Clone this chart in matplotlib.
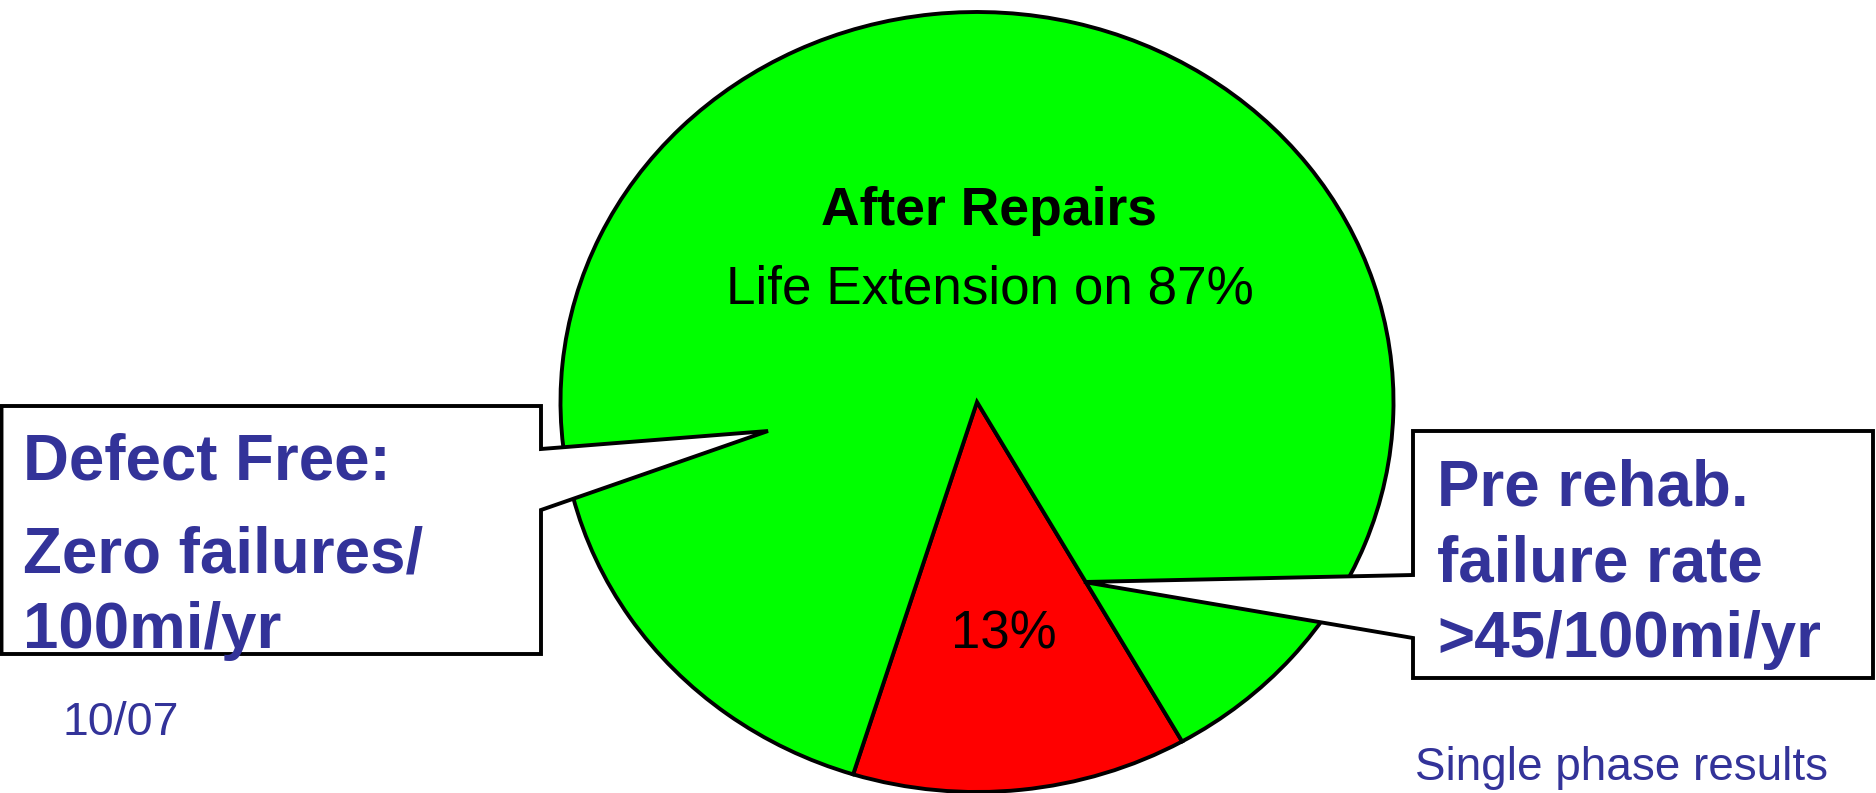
import matplotlib.pyplot as plt
from matplotlib.patches import Polygon

plt.rcParams['font.family'] = ['Liberation Sans', 'DejaVu Sans']

# data
slice_names = ["Pre rehab", "After Repairs"]
shares = [13, 87]
slice_colors = ["#ff0000", "#00ff00"]
left_note = ["Defect Free:", "Zero failures/", "100mi/yr"]
right_note = ["Pre rehab.", "failure rate", ">45/100mi/yr"]
date_text = "10/07"
foot_text = "Single phase results"

W, H = 1876, 793
blue = "#333399"

fig = plt.figure(figsize=(W / 100, H / 100), dpi=100)

# pie axes, stretched so the pie becomes an ellipse
ax = fig.add_axes([0, 0, 1, 1])
cx, cy = 977, 402      # centre in pixels (y from top)
a, b = 416.5, 390.0    # half width / half height in pixels

wedges, texts, autotexts = ax.pie(
    shares,
    colors=slice_colors,
    startangle=-107.3,
    counterclock=True,
    wedgeprops=dict(edgecolor="black", linewidth=2.8),
    autopct=lambda p: f"{p:.0f}%" if p < 50 else "",
    pctdistance=0.6,
    textprops=dict(fontsize=38, color="black"),
)
ax.set_aspect("auto")
ax.set_xlim(-cx / a, (W - cx) / a)
ax.set_ylim(-(H - cy) / b, cy / b)
ax.axis("off")

# overlay axes in pixel coordinates for callouts and notes
ax2 = fig.add_axes([0, 0, 1, 1])
ax2.set_xlim(0, W)
ax2.set_ylim(H, 0)
ax2.axis("off")

# green slice text
ax2.text(989, 225, slice_names[1], fontsize=38.5, fontweight="bold",
         ha="center", va="baseline")
ax2.text(990, 303, f"Life Extension on {shares[1]}%", fontsize=38.2,
         ha="center", va="baseline")

# left callout
left_box = [(1.5, 406), (541, 406), (541, 449), (768, 431), (541, 510),
            (541, 654), (1.5, 654)]
ax2.add_patch(Polygon(left_box, closed=True, fc="white", ec="black",
                      lw=2.8, joinstyle="miter"))
for txt, yb in zip(left_note, [480, 572, 648]):
    ax2.text(23, yb, txt, fontsize=45.8, fontweight="bold", color=blue,
             ha="left", va="baseline")

# right callout
right_box = [(1413, 431), (1873, 431), (1873, 678), (1413, 678),
             (1413, 638), (1084, 582), (1413, 575)]
ax2.add_patch(Polygon(right_box, closed=True, fc="white", ec="black",
                      lw=2.8, joinstyle="miter"))
for txt, yb in zip(right_note, [505, 582, 657]):
    ax2.text(1437, yb, txt, fontsize=45.8, fontweight="bold", color=blue,
             ha="left", va="baseline")

# footer notes
ax2.text(62, 735, date_text, fontsize=33.5, color=blue, ha="left", va="baseline")
ax2.text(1415, 780, foot_text, fontsize=33, color=blue, ha="left", va="baseline")

fig.savefig("out.png", dpi=100)
